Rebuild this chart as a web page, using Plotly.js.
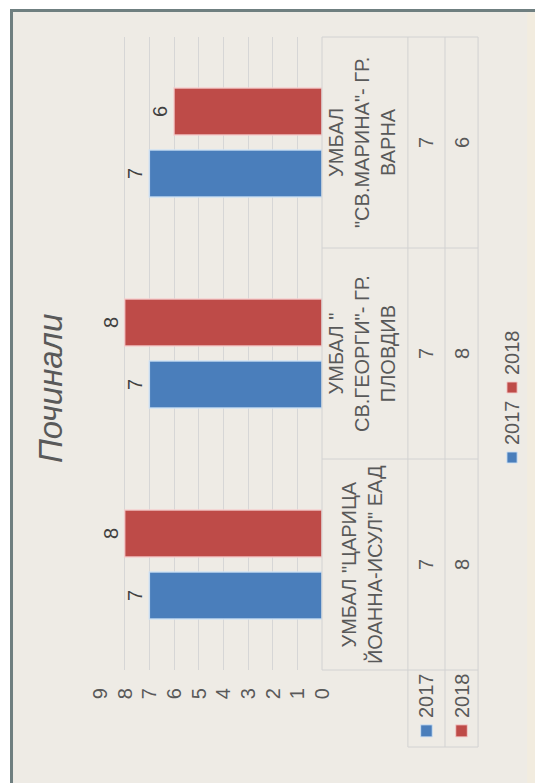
<!DOCTYPE html>
<html>
<head>
<meta charset="utf-8">
<script src="https://cdn.plot.ly/plotly-3.0.1.min.js"></script>
<style>
  html, body { margin: 0; padding: 0; background: #ffffff; overflow: hidden; }
  #wrap { position: absolute; left: 0; top: 0; width: 535px; height: 783px; overflow: hidden; }
  #chart { position: absolute; left: 0; top: 0; width: 783px; height: 535px;
           transform-origin: 0 0; transform: translate(0px, 783px) rotate(-90deg); }
</style>
</head>
<body>
<div id="wrap"><div id="chart"></div></div>
<script>
// ---- data ----
const categories = ['УМБАЛ "ЦАРИЦА ЙОАННА-ИСУЛ" ЕАД', 'УМБАЛ " СВ.ГЕОРГИ"- ГР. ПЛОВДИВ', 'УМБАЛ "СВ.МАРИНА"- ГР. ВАРНА'];
const categoryLines = [
  ['УМБАЛ "ЦАРИЦА', 'ЙОАННА-ИСУЛ" ЕАД'],
  ['УМБАЛ "', 'СВ.ГЕОРГИ"- ГР.', 'ПЛОВДИВ'],
  ['УМБАЛ', '"СВ.МАРИНА"- ГР.', 'ВАРНА']
];
const seriesNames = ['2017', '2018'];
const values2017 = [7, 7, 7];
const values2018 = [8, 8, 6];
const tickValues = [0, 1, 2, 3, 4, 5, 6, 7, 8, 9];
const chartTitle = 'Починали';

// ---- styling ----
const FONT = '"Liberation Sans", Arial, sans-serif';
const TXT = '#595959';
const colors = ['#4a7ebb', '#be4b48'];
const edge = ['rgba(205,225,245,0.9)', 'rgba(245,205,205,0.9)'];
const seriesValues = [values2017, values2018];
const lineCol = '#d2d2d2';

const traces = seriesNames.map((n, i) => ({
  type: 'bar', name: n, x: categories, y: seriesValues[i],
  marker: { color: colors[i], line: { color: edge[i], width: 1.5 } },
  text: seriesValues[i].map(String), textposition: 'outside',
  textfont: { family: FONT, size: 20, color: '#404040' },
  cliponaxis: false, hoverinfo: 'skip', showlegend: false
}));

// helpers: category units -> paper x ; plot spans categories -0.5..2.5
const catToPaper = c => (c + 0.5) / 3;
// table geometry (paper y)
const rowTop = [-0.387, -0.554];
const rowBot = [-0.554, -0.703];
const headerXp = catToPaper(-0.865);

const shapes = [];
// chart frame
shapes.push({ type: 'rect', xref: 'paper', yref: 'paper', x0: -0.25, x1: 1.0419, y0: -1.2, y1: 1.3986,
  fillcolor: '#eeebe5', line: { color: '#6f7f80', width: 3 }, layer: 'below' });
shapes.push({ type: 'rect', xref: 'paper', yref: 'paper', x0: -0.24, x1: 1.039, y0: -1.2, y1: -0.924,
  fillcolor: '#f2ecdf', line: { width: 0 }, layer: 'below' });
// table horizontal lines
shapes.push({ type: 'line', xref: 'paper', yref: 'paper', x0: 0, x1: 1, y0: 0, y1: 0, line: { color: lineCol, width: 1 } });
[-0.387, -0.554, -0.703].forEach(y => shapes.push({ type: 'line', xref: 'paper', yref: 'paper', x0: headerXp, x1: 1, y0: y, y1: y, line: { color: lineCol, width: 1 } }));
// table vertical lines
[-0.5, 0.5, 1.5, 2.5].forEach(x => shapes.push({ type: 'line', xref: 'paper', yref: 'paper', x0: catToPaper(x), x1: catToPaper(x), y0: 0, y1: -0.703, line: { color: lineCol, width: 1 } }));
shapes.push({ type: 'line', xref: 'paper', yref: 'paper', x0: headerXp, x1: headerXp, y0: -0.387, y1: -0.703, line: { color: lineCol, width: 1 } });

const annotations = [];
// legend keys + names inside the table's row headers
seriesNames.forEach((n, i) => {
  const c = (rowTop[i] + rowBot[i]) / 2;
  shapes.push({ type: 'rect', xref: 'paper', yref: 'paper', x0: catToPaper(-0.817), x1: catToPaper(-0.760), y0: c - 0.026, y1: c + 0.026,
    fillcolor: colors[i], line: { color: edge[i], width: 1 } });
  annotations.push({ xref: 'paper', yref: 'paper', x: catToPaper(-0.737), y: c, xanchor: 'left', yanchor: 'middle',
    text: n, showarrow: false, font: { family: FONT, size: 20, color: TXT } });
});
// category headers + values
categories.forEach((c, i) => {
  annotations.push({ xref: 'x', yref: 'paper', x: i, y: -0.180, yanchor: 'middle', xanchor: 'center',
    text: categoryLines[i].join('<br>'), showarrow: false, align: 'center',
    font: { family: FONT, size: 20, color: TXT } });
  seriesValues.forEach((vals, r) => {
    annotations.push({ xref: 'x', yref: 'paper', x: i, y: (rowTop[r] + rowBot[r]) / 2, yanchor: 'middle',
      text: String(vals[i]), showarrow: false, font: { family: FONT, size: 20, color: TXT } });
  });
});
// bottom legend (square key + name per series)
const legKeyX = [0.3270, 0.4376];
const legY = -0.856;
seriesNames.forEach((n, i) => {
  shapes.push({ type: 'rect', xref: 'paper', yref: 'paper', x0: legKeyX[i], x1: legKeyX[i] + 0.0174, y0: legY - 0.023, y1: legY + 0.023,
    fillcolor: colors[i], line: { color: edge[i], width: 1 } });
  annotations.push({ xref: 'paper', yref: 'paper', x: legKeyX[i] + 0.0253, y: legY, xanchor: 'left', yanchor: 'middle',
    text: n, showarrow: false, font: { family: FONT, size: 20, color: TXT } });
});

const layout = {
  width: 783, height: 535,
  margin: { l: 113, r: 37, t: 100, b: 213 },
  paper_bgcolor: '#ffffff', plot_bgcolor: 'rgba(0,0,0,0)',
  font: { family: FONT, color: TXT },
  title: { text: chartTitle, xref: 'container', yref: 'container', x: 0.504, xanchor: 'center', y: 0.905, yanchor: 'middle',
    font: { family: FONT, size: 33, style: 'italic', color: TXT } },
  barmode: 'group', bargap: 0.412, bargroupgap: 0.242,
  xaxis: { type: 'category', range: [-0.5, 2.5], showticklabels: false, showgrid: false, zeroline: false, showline: false, fixedrange: true },
  yaxis: { range: [0, 9], tickvals: tickValues, ticktext: tickValues.map(String), gridcolor: '#d6d6d6', gridwidth: 1,
    zeroline: false, showline: false, ticks: '', ticklabelstandoff: 17, tickfont: { family: FONT, size: 20, color: TXT }, fixedrange: true },
  showlegend: false,
  shapes: shapes, annotations: annotations
};

Plotly.newPlot('chart', traces, layout, { displayModeBar: false, staticPlot: true });
</script>
</body>
</html>
